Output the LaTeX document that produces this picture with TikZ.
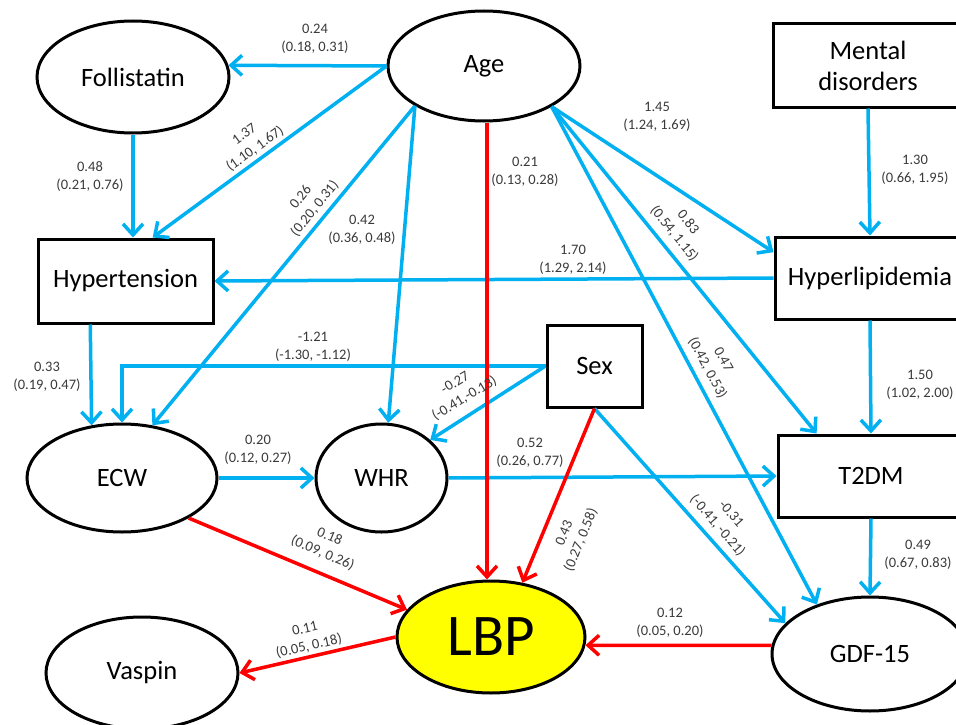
\documentclass[tikz,border=0pt]{standalone}
\usepackage{fontspec}
\setmainfont{Carlito}
\usetikzlibrary{shapes.geometric,arrows.meta,calc}
\definecolor{cblue}{HTML}{00B0F0}
\definecolor{cred}{HTML}{FF0000}
\definecolor{lbl}{HTML}{3A3A3A}
\definecolor{lbpfill}{HTML}{FFFF00}
\newcommand{\ndfont}{\fontsize{26.5}{31}\selectfont}
\newcommand{\lbfont}{\fontsize{14.5}{18}\selectfont}
\begin{document}
\begin{tikzpicture}[x=1pt,y=-1pt,
  ell/.style={ellipse,draw,line width=3pt,inner sep=0pt,font=\ndfont},
  box/.style={rectangle,draw,line width=3pt,inner sep=0pt,font=\ndfont,align=center},
  tip/.style={-{Straight Barb[length=11pt,width=20pt]}},
  bl/.style={draw=cblue,line width=3.5pt,tip},
  rd/.style={draw=cred,line width=3.5pt,tip},
  lab/.style={font=\lbfont,text=lbl,align=center,inner sep=0pt}]
\path[use as bounding box] (0,0) rectangle (956,725);
\clip (0,0) rectangle (956,725);
\fill[white] (0,0) rectangle (956,725);

% nodes
\node[ell,minimum width=192pt,minimum height=110pt] (age) at (484,66) {Age};
\node[ell,minimum width=192pt,minimum height=112pt] (foll) at (133,77) {Follistatin};
\node[box,minimum width=190pt,minimum height=83pt] (mental) at (868,65.5) {Mental\\disorders};
\node[box,minimum width=175pt,minimum height=84pt] (hyper) at (125.5,281) {Hypertension};
\node[box,minimum width=190pt,minimum height=82pt] (hlip) at (870,278) {Hyperlipidemia};
\node[box,minimum width=95pt,minimum height=82pt] (sex) at (594.5,366) {Sex};
\node[ell,minimum width=190pt,minimum height=108pt] (ecw) at (122,478) {ECW};
\node[ell,minimum width=131pt,minimum height=108pt] (whr) at (381.5,478) {WHR};
\node[box,minimum width=186pt,minimum height=82pt] (t2dm) at (871,476) {T2DM};
\node[ell,fill=lbpfill,minimum width=188pt,minimum height=112pt,font=\fontsize{59}{62}\selectfont] (lbp) at (491,637) {LBP};
\node[ell,minimum width=192pt,minimum height=112pt] (vaspin) at (142,673) {Vaspin};
\node[ell,minimum width=196pt,minimum height=114pt] (gdf) at (870,654) {GDF-15};

% blue connectors
\draw[bl] (age.180) -- (foll.7);
\draw[bl] (age.180) -- (hyper.58);
\draw[bl] (foll.south) -- (foll.south |- hyper.north);
\draw[bl] (age.-150) -- (ecw.60);
\draw[bl] (age.-150) -- (whr.83);
\draw[bl] (age.-31) -- (hlip.165);
\draw[bl] (age.-31) -- (t2dm.142);
\draw[bl] (age.-31) -- (gdf.137);
\draw[bl] (mental.south) -- (hlip.north);
\draw[bl] (hlip.west) -- (hyper.east);
\draw[bl] (hlip.south) -- (t2dm.north);
\draw[bl] (hyper.-129) -- (ecw.120);
\draw[bl] (sex.west) -| (ecw.north);
\draw[bl] (sex.west) -- (whr.38);
\draw[bl] (ecw.east) -- (whr.west);
\draw[bl] (whr.east) -- (t2dm.west);
\draw[bl] (sex.south) -- (gdf.160);
\draw[bl] (t2dm.south) -- (gdf.north);

% red connectors
\draw[rd] ($(age.south)+(3,0)$) -- ($(age.south |- lbp.north)+(3,0)$);
\draw[rd] (sex.south) -- (lbp.60);
\draw[rd] (ecw.-31) -- (lbp.162);
\draw[rd] (gdf.175) -- (lbp.-5);
\draw[rd] (lbp.west) -- (vaspin.east);

% labels
\node[lab] (l1) at (315,39) {0.24\\(0.18, 0.31)};
\node[lab,rotate=36] (l2) at (250,142) {1.37\\(1.10, 1.67)};
\node[lab] (l3) at (90,177) {0.48\\(0.21, 0.76)};
\node[lab,rotate=51] (l4) at (308,203) {0.26\\(0.20, 0.31)};
\node[lab] (l5) at (362,230) {0.42\\(0.36, 0.48)};
\node[lab] (l6) at (525,172) {0.21\\(0.13, 0.28)};
\node[lab] (l7) at (657,117) {1.45\\(1.24, 1.69)};
\node[lab,rotate=-51] (l8) at (681,228) {0.83\\(0.54, 1.15)};
\node[lab] (l9) at (915,170) {1.30\\(0.66, 1.95)};
\node[lab] (l10) at (573,260) {1.70\\(1.29, 2.14)};
\node[lab] (l11) at (920,385) {1.50\\(1.02, 2.00)};
\node[lab] (l12) at (47,377) {0.33\\(0.19, 0.47)};
\node[lab] (l13) at (313,347) {-1.21\\(-1.30, -1.12)};
\node[lab,rotate=31] (l14) at (460,391) {-0.27\\(-0.41,-0.13)};
\node[lab] (l15) at (258,450) {0.20\\(0.12, 0.27)};
\node[lab] (l16) at (530,453) {0.52\\(0.26, 0.77)};
\node[lab,rotate=-62] (l17) at (715,364) {0.47\\(0.42, 0.53)};
\node[lab,rotate=68] (l18) at (573,537) {0.43\\(0.27, 0.58)};
\node[lab,rotate=-49] (l19) at (724,520) {-0.31\\(-0.41, -0.21)};
\node[lab,rotate=-23] (l20) at (326,545) {0.18\\(0.09, 0.26)};
\node[lab] (l21) at (918,555) {0.49\\(0.67, 0.83)};
\node[lab] (l22) at (670,623) {0.12\\(0.05, 0.20)};
\node[lab,rotate=13] (l23) at (307,638) {0.11\\(0.05, 0.18)};
\end{tikzpicture}
\end{document}
